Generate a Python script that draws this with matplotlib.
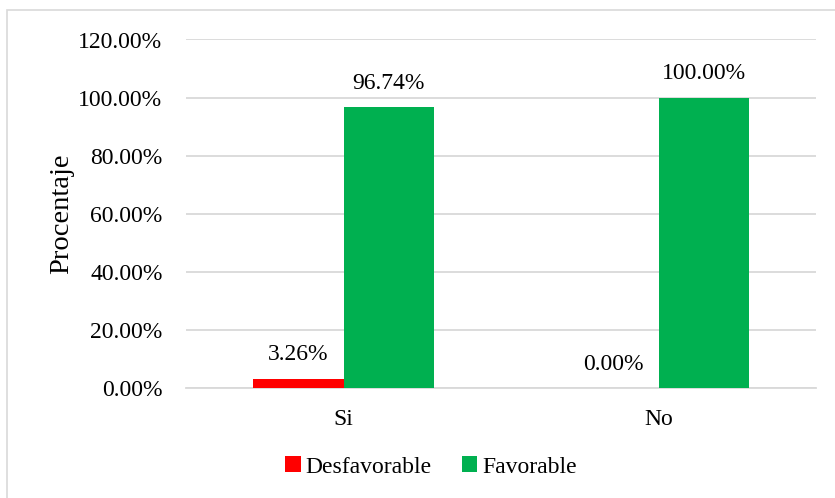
import numpy as np
import matplotlib
matplotlib.use("Agg")
import matplotlib.pyplot as plt
from matplotlib.patches import Rectangle
from matplotlib.ticker import FuncFormatter

# Data
categories = ["Si", "No"]
desfavorable = [3.26, 0.00]
favorable = [96.74, 100.00]
series_names = ["Desfavorable", "Favorable"]
yticks = [0, 20, 40, 60, 80, 100, 120]

plt.rcParams['font.family'] = ['Liberation Serif', 'DejaVu Serif']

fig = plt.figure(figsize=(8.35, 4.98), dpi=100)
ax = fig.add_axes([186 / 835, 1 - 388 / 498, 630 / 835, 348.5 / 498])

# outer chart border
fig.patches.append(Rectangle((7 / 835, -0.05), 1.2, 1 - 10 / 498 + 0.05,
                             transform=fig.transFigure, fill=False,
                             edgecolor='#d9d9d9', linewidth=1.2))

x = np.arange(len(categories))
w = 0.286
b1 = ax.bar(x - w / 2, desfavorable, w, color='#ff0000', label=series_names[0], zorder=3)
b2 = ax.bar(x + w / 2, favorable, w, color='#00b050', label=series_names[1], zorder=3)

for bars in (b1, b2):
    for rect in bars:
        h = rect.get_height()
        ax.annotate(f"{h:.2f}%", (rect.get_x() + rect.get_width() / 2, h),
                    xytext=(0, 9.5), textcoords='offset points',
                    ha='center', va='bottom', fontsize=17)

ax.set_xlim(-0.5, 1.5)
ax.set_ylim(0, 120)
ax.set_yticks(yticks)
ax.yaxis.set_major_formatter(FuncFormatter(lambda v, p: f"{v:.2f}%"))
ax.set_xticks(x)
ax.set_xticklabels(categories)
ax.tick_params(axis='both', length=0, labelsize=17)
ax.tick_params(axis='y', pad=17)
ax.tick_params(axis='x', pad=15)

ax.grid(axis='y', color='#d9d9d9', linewidth=1.3, zorder=0)
for s in ['top', 'right', 'left']:
    ax.spines[s].set_visible(False)
ax.spines['bottom'].set_color('#d9d9d9')
ax.spines['bottom'].set_linewidth(1.3)

ax.set_ylabel("Procentaje", fontsize=20.5)
ax.yaxis.set_label_coords(-0.177, 0.5)

fig.legend(handles=[b1, b2], loc='center', bbox_to_anchor=(431 / 835, 1 - 467 / 498),
           ncol=2, frameon=False, fontsize=17, handlelength=0.65, handleheight=0.65,
           handletextpad=0.2, columnspacing=1.3)

fig.savefig("out.png", dpi=100)
